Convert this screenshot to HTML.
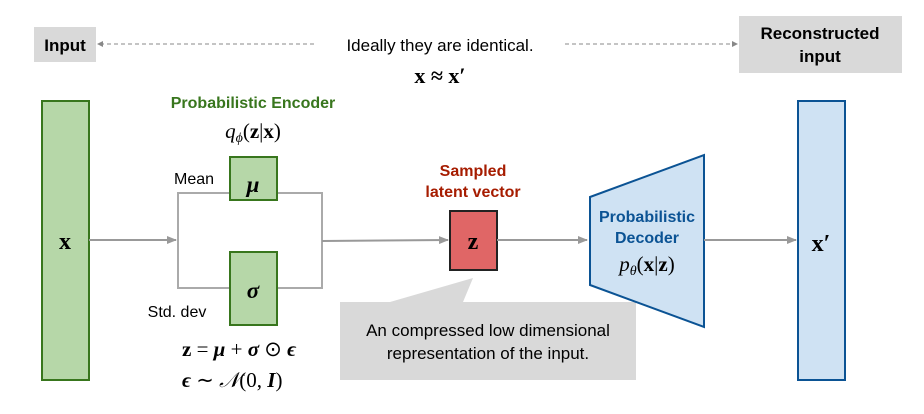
<html><head><style>body{margin:0;background:#fff}svg text{font-family:"Liberation Sans",sans-serif}.m{font-family:"Liberation Serif",serif}</style></head><body>
<svg width="924" height="414" viewBox="0 0 924 414" xmlns="http://www.w3.org/2000/svg">
<defs><marker id="a" markerWidth="10" markerHeight="8" refX="9" refY="4" orient="auto" markerUnits="userSpaceOnUse"><path d="M0,0L10,4L0,8z" fill="#999"/></marker>
<marker id="s" markerWidth="6" markerHeight="6" refX="5" refY="3" orient="auto" markerUnits="userSpaceOnUse"><path d="M0,0L6,3L0,6z" fill="#888"/></marker></defs>
<rect x="34" y="27" width="62" height="35" fill="#d9d9d9"/>
<text x="65" y="51" text-anchor="middle" font-size="17" font-weight="bold">Input</text>
<line x1="314" y1="44" x2="98" y2="44" stroke="#888" stroke-dasharray="4,3" marker-end="url(#s)"/>
<line x1="565" y1="44" x2="737" y2="44" stroke="#888" stroke-dasharray="4,3" marker-end="url(#s)"/>
<text x="440" y="51" text-anchor="middle" font-size="17">Ideally they are identical.</text>
<text x="440" y="83" text-anchor="middle" font-size="22" class="m" font-weight="bold">x ≈ x′</text>
<rect x="739" y="16" width="163" height="57" fill="#d9d9d9"/>
<text x="820" y="39" text-anchor="middle" font-size="17" font-weight="bold">Reconstructed</text>
<text x="820" y="62" text-anchor="middle" font-size="17" font-weight="bold">input</text>
<rect x="42" y="101" width="47" height="279" fill="#b6d7a8" stroke="#38761d" stroke-width="2"/>
<text x="65" y="249" text-anchor="middle" font-size="24" class="m" font-weight="bold">x</text>
<text x="253" y="108" text-anchor="middle" font-size="16" font-weight="bold" fill="#38761d">Probabilistic Encoder</text>
<text x="253" y="138" text-anchor="middle" font-size="21" class="m" font-style="italic">q<tspan font-size="14" dy="4">ϕ</tspan><tspan dy="-4" font-style="normal">(<tspan font-weight="bold">z</tspan>|<tspan font-weight="bold">x</tspan>)</tspan></text>
<path d="M230,193H178V288H230M277,193H322V288H277" fill="none" stroke="#aaa" stroke-width="2"/>
<line x1="89" y1="240" x2="176" y2="240" stroke="#999" stroke-width="2" marker-end="url(#a)"/>
<line x1="322" y1="241" x2="448" y2="240" stroke="#999" stroke-width="2" marker-end="url(#a)"/>
<rect x="230" y="157" width="47" height="43" fill="#b6d7a8" stroke="#38761d" stroke-width="2"/>
<rect x="230" y="252" width="47" height="73" fill="#b6d7a8" stroke="#38761d" stroke-width="2"/>
<text x="253" y="192" text-anchor="middle" font-size="23" class="m" font-weight="bold" font-style="italic">μ</text>
<text x="253" y="298" text-anchor="middle" font-size="23" class="m" font-weight="bold" font-style="italic">σ</text>
<text x="194" y="184" text-anchor="middle" font-size="16">Mean</text>
<text x="177" y="317" text-anchor="middle" font-size="16">Std. dev</text>
<text x="182" y="356" font-size="21" class="m"><tspan font-weight="bold">z</tspan> = <tspan font-weight="bold" font-style="italic">μ</tspan> + <tspan font-weight="bold" font-style="italic">σ</tspan> ⊙ <tspan font-weight="bold" font-style="italic">ϵ</tspan></text>
<text x="182" y="387" font-size="21" class="m"><tspan font-weight="bold" font-style="italic">ϵ</tspan> ∼ <tspan font-style="italic">𝒩</tspan>(0, <tspan font-weight="bold" font-style="italic">I</tspan>)</text>
<text x="473" y="176" text-anchor="middle" font-size="16" font-weight="bold" fill="#a61c00">Sampled</text>
<text x="473" y="197" text-anchor="middle" font-size="16" font-weight="bold" fill="#a61c00">latent vector</text>
<rect x="450" y="211" width="47" height="59" fill="#e06666" stroke="#222" stroke-width="2"/>
<text x="473" y="249" text-anchor="middle" font-size="24" class="m" font-weight="bold">z</text>
<line x1="497" y1="240" x2="587" y2="240" stroke="#999" stroke-width="2" marker-end="url(#a)"/>
<path d="M340,302H390L473,278L463,302H636V380H340z" fill="#d9d9d9"/>
<text x="488" y="336" text-anchor="middle" font-size="17">An compressed low dimensional</text>
<text x="488" y="359" text-anchor="middle" font-size="17">representation of the input.</text>
<path d="M590,197L704,155V327L590,285z" fill="#cfe2f3" stroke="#0b5394" stroke-width="2"/>
<text x="647" y="222" text-anchor="middle" font-size="16" font-weight="bold" fill="#0b5394">Probabilistic</text>
<text x="647" y="243" text-anchor="middle" font-size="16" font-weight="bold" fill="#0b5394">Decoder</text>
<text x="647" y="271" text-anchor="middle" font-size="21" class="m" font-style="italic">p<tspan font-size="14" dy="4">θ</tspan><tspan dy="-4" font-style="normal">(<tspan font-weight="bold">x</tspan>|<tspan font-weight="bold">z</tspan>)</tspan></text>
<line x1="704" y1="240" x2="796" y2="240" stroke="#999" stroke-width="2" marker-end="url(#a)"/>
<rect x="798" y="101" width="47" height="279" fill="#cfe2f3" stroke="#0b5394" stroke-width="2"/>
<text x="821" y="251" text-anchor="middle" font-size="24" class="m" font-weight="bold">x′</text>
</svg></body></html>
